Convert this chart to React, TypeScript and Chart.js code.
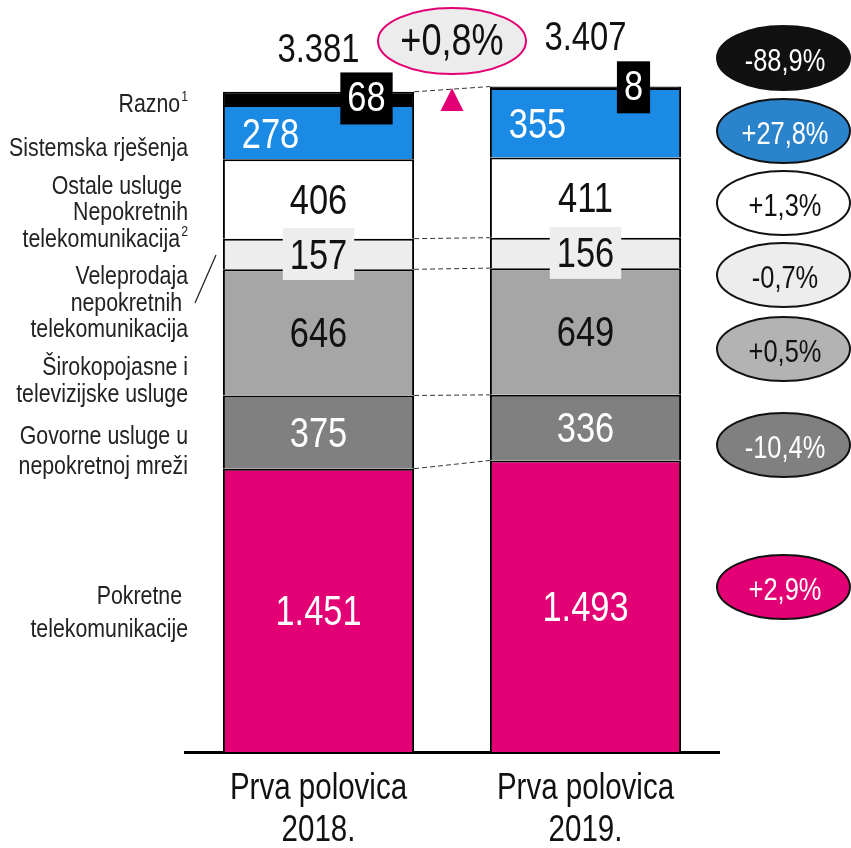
import React, { useEffect, useRef } from 'react';
import { Chart, registerables } from 'chart.js';

Chart.register(...registerables);

// ---------- data ----------
const categories = [
  ['Prva polovica', '2018.'],
  ['Prva polovica', '2019.'],
];
const seriesNames = [
  'Pokretne telekomunikacije',
  'Govorne usluge u nepokretnoj mreži',
  'Širokopojasne i televizijske usluge',
  'Veleprodaja nepokretnih telekomunikacija',
  'Ostale usluge Nepokretnih telekomunikacija',
  'Sistemska rješenja',
  'Razno',
];
const pokretne = [1451, 1493];
const govorne = [375, 336];
const sirokopojasne = [646, 649];
const veleprodaja = [157, 156];
const ostale = [406, 411];
const sistemska = [278, 355];
const razno = [68, 8];
const totals = [3381, 3407];
const changes = ['+2,9%', '-10,4%', '+0,5%', '-0,7%', '+1,3%', '+27,8%', '-88,9%'];
const totalChange = '+0,8%';

// left-hand label lines (text, superscript)
const leftLabelLines = [
  { text: 'Razno', sup: '1', y: 105 },
  { text: 'Sistemska rješenja', y: 149 },
  { text: 'Ostale usluge ', y: 187 },
  { text: 'Nepokretnih', y: 213 },
  { text: 'telekomunikacija', sup: '2', y: 240 },
  { text: 'Veleprodaja', y: 277 },
  { text: 'nepokretnih ', y: 304 },
  { text: 'telekomunikacija', y: 330 },
  { text: 'Širokopojasne i', y: 368 },
  { text: 'televizijske usluge', y: 395 },
  { text: 'Govorne usluge u', y: 437 },
  { text: 'nepokretnoj mreži', y: 467 },
  { text: 'Pokretne ', y: 597 },
  { text: 'telekomunikacije', y: 630 },
];

// ---------- styles ----------
const FONT = '"Liberation Sans", Arial, sans-serif';
const SX = 0.82; // horizontal condensing to imitate a narrow grotesk
const barColors = ['#e20074', '#808080', '#a6a6a6', '#ededed', '#ffffff', '#1a8ae5', '#000000'];
const labelColors = ['#ffffff', '#ffffff', '#111111', '#111111', '#111111', '#ffffff', '#ffffff'];
const labelBoxes = [null, null, null, '#ededed', null, null, '#000000'];
const labelDx = [0, 0, 0, 0, 0, -48, 48];
const labelDy = [3, 3, 3, 3, 3, 4, 1];
const ellipseFills = ['#e20074', '#808080', '#b3b3b3', '#ededed', '#ffffff', '#2b83cb', '#111111'];
const ellipseText = ['#ffffff', '#ffffff', '#111111', '#111111', '#111111', '#ffffff', '#ffffff'];
const ellipseY = [587, 445, 349, 275, 203, 131, 58];
const totalLift = [41, 48];
const connectorSeries = [0, 1, 2, 3, 6];
const TICK_SIZE = 36;
const TICK_LINE = 42;
const TICK_PAD = 16;

const fmt = (n: number) => String(n).replace(/\B(?=(\d{3})+(?!\d))/g, '.');

function measure(ctx: CanvasRenderingContext2D, s: string, size: number) {
  ctx.font = `${size}px ${FONT}`;
  return ctx.measureText(s).width * SX;
}

function drawText(
  ctx: CanvasRenderingContext2D,
  s: string,
  x: number,
  y: number,
  size: number,
  color: string,
  align: CanvasTextAlign = 'center'
) {
  ctx.save();
  ctx.font = `${size}px ${FONT}`;
  ctx.fillStyle = color;
  ctx.textAlign = align;
  ctx.textBaseline = 'middle';
  ctx.translate(x, y);
  ctx.scale(SX, 1);
  ctx.fillText(s, 0, 0);
  ctx.restore();
}

const overlay = {
  id: 'overlay',
  afterDatasetsDraw(chart: any) {
    const ctx: CanvasRenderingContext2D = chart.ctx;
    const bar = (i: number, j: number) =>
      chart.getDatasetMeta(i).data[j].getProps(['x', 'y', 'base', 'width'], true);
    ctx.save();

    // dashed connectors
    ctx.setLineDash([5, 3]);
    ctx.lineWidth = 1;
    ctx.strokeStyle = '#333';
    for (const i of connectorSeries) {
      const a = bar(i, 0);
      const b = bar(i, 1);
      ctx.beginPath();
      ctx.moveTo(a.x + a.width / 2, a.y);
      ctx.lineTo(b.x - b.width / 2, b.y);
      ctx.stroke();
    }
    ctx.setLineDash([]);

    // segment labels
    chart.data.datasets.forEach((ds: any, i: number) => {
      ds.data.forEach((v: number, j: number) => {
        const b = bar(i, j);
        const cy = (b.y + b.base) / 2;
        const cx = b.x + labelDx[i];
        const s = fmt(v);
        const w = measure(ctx, s, 42);
        if (labelBoxes[i]) {
          ctx.fillStyle = labelBoxes[i] as string;
          ctx.fillRect(cx - w / 2 - 7, cy - 26, w + 14, 52);
        }
        drawText(ctx, s, cx, cy + labelDy[i], 42, labelColors[i]);
      });
    });

    // totals
    totals.forEach((t, j) => {
      const b = bar(6, j);
      drawText(ctx, fmt(t), b.x, b.y - totalLift[j], 40, '#111');
    });

    // total change ellipse + triangle
    const b0 = bar(6, 0);
    const b1 = bar(6, 1);
    const mx = (b0.x + b1.x) / 2;
    ctx.beginPath();
    ctx.ellipse(mx, 41, 74, 33, 0, 0, Math.PI * 2);
    ctx.fillStyle = '#ececec';
    ctx.fill();
    ctx.lineWidth = 2;
    ctx.strokeStyle = '#e20074';
    ctx.stroke();
    drawText(ctx, totalChange, mx, 43, 44, '#111');
    ctx.beginPath();
    ctx.moveTo(mx, 88);
    ctx.lineTo(mx + 11.5, 111);
    ctx.lineTo(mx - 11.5, 111);
    ctx.closePath();
    ctx.fillStyle = '#e20074';
    ctx.fill();

    // change ellipses
    changes.forEach((c, i) => {
      ctx.beginPath();
      ctx.ellipse(783.5, ellipseY[i], 66.5, 32, 0, 0, Math.PI * 2);
      ctx.fillStyle = ellipseFills[i];
      ctx.fill();
      ctx.lineWidth = 2;
      ctx.strokeStyle = '#111';
      ctx.stroke();
      drawText(ctx, c, 785, ellipseY[i] + 4, 31, ellipseText[i]);
    });

    // left labels
    const right = 188;
    leftLabelLines.forEach((l) => {
      let r = right;
      if (l.sup) {
        drawText(ctx, l.sup, right, l.y - 8, 15, '#222', 'right');
        r = right - measure(ctx, l.sup, 15) - 1;
      }
      drawText(ctx, l.text, r, l.y, 26, '#222', 'right');
    });

    // slash
    ctx.beginPath();
    ctx.moveTo(216, 255);
    ctx.lineTo(195, 303);
    ctx.lineWidth = 1.2;
    ctx.strokeStyle = '#222';
    ctx.stroke();

    ctx.restore();
  },
  afterDraw(chart: any) {
    // category labels, positioned from the x scale's own ticks
    const ctx: CanvasRenderingContext2D = chart.ctx;
    const xs = chart.scales.x;
    xs.ticks.forEach((_t: any, i: number) => {
      const x = xs.getPixelForTick(i);
      const lbl = xs.getLabelForValue(xs.ticks[i].value);
      const lines = Array.isArray(lbl) ? lbl : String(lbl).split(',');
      lines.forEach((ln: string, k: number) => {
        drawText(ctx, ln, x, xs.top + TICK_PAD + TICK_LINE / 2 + k * TICK_LINE, TICK_SIZE, '#111');
      });
    });
  },
};

export default function App() {
  const ref = useRef<HTMLCanvasElement | null>(null);
  useEffect(() => {
    if (!ref.current) return;
    const series = [pokretne, govorne, sirokopojasne, veleprodaja, ostale, sistemska, razno];
    const chart = new Chart(ref.current, {
      type: 'bar',
      data: {
        labels: categories as any,
        datasets: series.map((d, i) => ({
          label: seriesNames[i],
          data: d,
          backgroundColor: barColors[i],
          borderColor: '#000',
          borderWidth: 2,
          inflateAmount: 0,
          barPercentage: 0.716,
          categoryPercentage: 1,
        })),
      },
      options: {
        responsive: false,
        animation: false,
        events: [],
        layout: { padding: { left: 185, right: 132, top: 51, bottom: 0 } },
        plugins: { legend: { display: false }, tooltip: { enabled: false } },
        scales: {
          x: {
            stacked: true,
            z: 1,
            grid: { display: false, drawTicks: false },
            border: { display: true, color: '#000', width: 3 },
            ticks: {
              color: 'rgba(0,0,0,0)',
              padding: TICK_PAD,
              maxRotation: 0,
              autoSkip: false,
              font: { family: FONT, size: TICK_SIZE, lineHeight: TICK_LINE / TICK_SIZE },
            },
          },
          y: { stacked: true, display: false, min: 0, max: 3590 },
        },
      },
      plugins: [overlay],
    });
    return () => chart.destroy();
  }, []);
  return (
    <div style={{ position: 'fixed', left: 0, top: 0, width: 851, height: 848, overflow: 'hidden', background: '#fff' }}>
      <canvas ref={ref} width={851} height={868} style={{ display: 'block' }} />
    </div>
  );
}
